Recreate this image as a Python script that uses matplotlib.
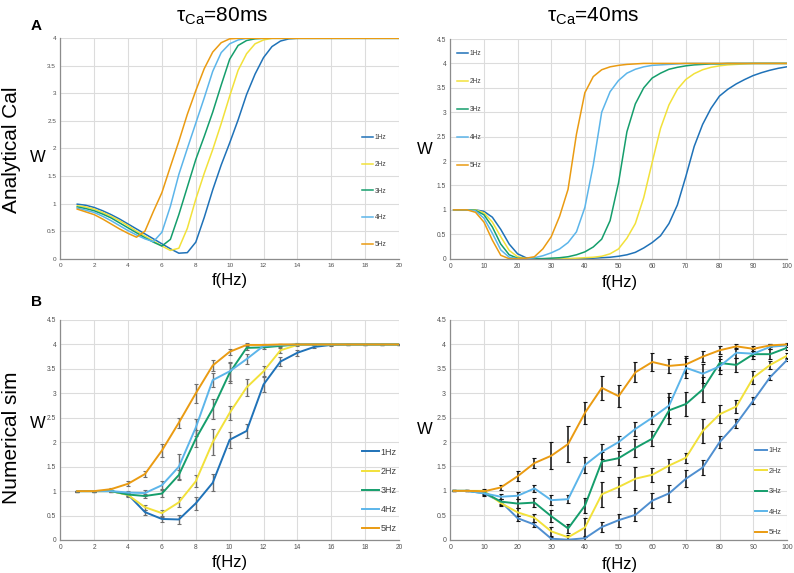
import matplotlib
matplotlib.use("Agg")
import matplotlib.pyplot as plt

plt.rcParams.update({
    "font.family": ["Liberation Sans", "DejaVu Sans"],
    "mathtext.fontset": "custom",
    "mathtext.rm": "Liberation Sans",
    "axes.edgecolor": "#8c8c8c",
    "axes.linewidth": 0.9,
})

W, H = 794, 573
COLORS = ["#1f72b8", "#f2e13a", "#159e6c", "#5cb5ea", "#ea9b12"]
BLUE_SIM40 = "#4f8fd0"
LABELS = ["1Hz", "2Hz", "3Hz", "4Hz", "5Hz"]

# --- analytical, tau_Ca = 80 ms ---
f_cal80 = [1, 1.5, 2, 2.5, 3, 3.5, 4, 4.5, 5, 5.5, 6, 6.5, 7, 7.5, 8, 8.5, 9, 9.5,
           10, 10.5, 11, 11.5, 12, 12.5, 13, 13.5, 14, 14.5, 15, 20]
cal80_1hz = [0.99, 0.97, 0.93, 0.87, 0.80, 0.72, 0.63, 0.54, 0.45, 0.36, 0.27, 0.18, 0.10, 0.11,
             0.30, 0.75, 1.25, 1.70, 2.10, 2.52, 2.98, 3.35, 3.65, 3.85, 3.95, 3.99, 4.0, 4.0, 4.0, 4.0]
cal80_2hz = [0.96, 0.94, 0.90, 0.84, 0.77, 0.69, 0.60, 0.50, 0.41, 0.32, 0.23, 0.15, 0.19, 0.55,
             1.08, 1.55, 1.98, 2.45, 2.95, 3.42, 3.72, 3.90, 3.97, 4.0, 4.0, 4.0, 4.0, 4.0, 4.0, 4.0]
cal80_3hz = [0.94, 0.91, 0.87, 0.81, 0.74, 0.65, 0.56, 0.47, 0.38, 0.30, 0.23, 0.35, 0.80, 1.30,
             1.80, 2.22, 2.66, 3.15, 3.62, 3.87, 3.96, 3.99, 4.0, 4.0, 4.0, 4.0, 4.0, 4.0, 4.0, 4.0]
cal80_4hz = [0.92, 0.88, 0.84, 0.77, 0.69, 0.60, 0.51, 0.43, 0.36, 0.31, 0.48, 0.95, 1.53, 2.00,
             2.46, 2.92, 3.40, 3.74, 3.90, 3.97, 4.0, 4.0, 4.0, 4.0, 4.0, 4.0, 4.0, 4.0, 4.0, 4.0]
cal80_5hz = [0.90, 0.85, 0.80, 0.72, 0.63, 0.54, 0.46, 0.39, 0.50, 0.86, 1.20, 1.67, 2.13, 2.62,
             3.05, 3.45, 3.75, 3.92, 3.99, 4.0, 4.0, 4.0, 4.0, 4.0, 4.0, 4.0, 4.0, 4.0, 4.0, 4.0]

# --- analytical, tau_Ca = 40 ms ---
f_cal40 = [1, 5, 7.5, 10, 12.5, 15, 17.5, 20, 22.5, 25, 27.5, 30, 32.5, 35, 37.5, 40, 42.5, 45,
           47.5, 50, 52.5, 55, 57.5, 60, 62.5, 65, 67.5, 70, 72.5, 75, 77.5, 80, 82.5, 85, 87.5,
           90, 92.5, 95, 97.5, 100]
cal40_1hz = [1.0, 1.0, 1.0, 0.97, 0.85, 0.6, 0.3, 0.1, 0.02, 0.0,
             0.0, 0.0, 0.0, 0.0, 0.0, 0.0, 0.01, 0.02, 0.03, 0.05,
             0.08, 0.13, 0.22, 0.33, 0.47, 0.72, 1.1, 1.68, 2.3, 2.75,
             3.08, 3.33, 3.47, 3.58, 3.67, 3.75, 3.81, 3.86, 3.9, 3.93]
cal40_2hz = [1.0, 1.0, 1.0, 0.94, 0.75, 0.45, 0.17, 0.04, 0.0, 0.0,
             0.0, 0.0, 0.0, 0.0, 0.01, 0.02, 0.03, 0.05, 0.1, 0.2,
             0.42, 0.72, 1.25, 1.97, 2.67, 3.15, 3.47, 3.67, 3.79, 3.87,
             3.92, 3.95, 3.97, 3.98, 3.99, 4.0, 4.0, 4.0, 4.0, 4.0]
cal40_3hz = [1.0, 1.0, 0.99, 0.9, 0.65, 0.3, 0.08, 0.01, 0.0, 0.0,
             0.0, 0.01, 0.02, 0.04, 0.08, 0.14, 0.24, 0.4, 0.78, 1.55,
             2.6, 3.17, 3.5, 3.7, 3.8, 3.88, 3.92, 3.95, 3.97, 3.98,
             3.99, 3.99, 4.0, 4.0, 4.0, 4.0, 4.0, 4.0, 4.0, 4.0]
cal40_4hz = [1.0, 1.0, 0.98, 0.83, 0.52, 0.18, 0.03, 0.0, 0.0, 0.02,
             0.06, 0.12, 0.2, 0.33, 0.55, 1.05, 1.92, 3.0, 3.42, 3.65,
             3.8, 3.88, 3.93, 3.96, 3.97, 3.98, 3.99, 4.0, 4.0, 4.0,
             4.0, 4.0, 4.0, 4.0, 4.0, 4.0, 4.0, 4.0, 4.0, 4.0]
cal40_5hz = [1.0, 1.0, 0.95, 0.75, 0.38, 0.07, 0.0, 0.0, 0.01, 0.04,
             0.2, 0.45, 0.87, 1.42, 2.55, 3.4, 3.73, 3.87, 3.93, 3.96,
             3.98, 3.99, 4.0, 4.0, 4.0, 4.0, 4.0, 4.0, 4.0, 4.0,
             4.0, 4.0, 4.0, 4.0, 4.0, 4.0, 4.0, 4.0, 4.0, 4.0]

# --- numerical, tau_Ca = 80 ms (mean, error) ---
f_sim80 = [1, 2, 3, 4, 5, 6, 7, 8, 9, 10, 11, 12, 13, 14, 15, 16, 17, 18, 19, 20]
sim80_1hz = [1.0, 1.0, 1.0, 0.93, 0.57, 0.43, 0.42, 0.75, 1.17, 2.05, 2.23, 3.18, 3.65, 3.83, 3.95, 3.99, 4.0, 4.0, 4.0, 4.0]
sim80_2hz = [1.0, 1.0, 1.0, 0.92, 0.67, 0.55, 0.77, 1.2, 2.0, 2.6, 3.12, 3.45, 3.88, 3.99, 4.0, 4.0, 4.0, 4.0, 4.0, 4.0]
sim80_3hz = [1.0, 1.0, 1.0, 0.93, 0.9, 0.95, 1.33, 2.07, 2.68, 3.42, 3.93, 3.94, 3.97, 4.0, 4.0, 4.0, 4.0, 4.0, 4.0, 4.0]
sim80_4hz = [1.0, 1.0, 1.0, 0.97, 0.96, 1.12, 1.5, 2.3, 3.27, 3.45, 3.7, 3.97, 3.99, 4.0, 4.0, 4.0, 4.0, 4.0, 4.0, 4.0]
sim80_5hz = [1.0, 1.0, 1.04, 1.15, 1.35, 1.83, 2.4, 3.0, 3.57, 3.85, 3.99, 3.99, 4.0, 4.0, 4.0, 4.0, 4.0, 4.0, 4.0, 4.0]
err80_1hz = [0.01, 0.01, 0.02, 0.04, 0.05, 0.07, 0.1, 0.13, 0.17, 0.16, 0.15, 0.15, 0.1, 0.06, 0.03, 0.02, 0.01, 0.01, 0.01, 0.01]
err80_2hz = [0.01, 0.01, 0.02, 0.04, 0.05, 0.07, 0.1, 0.12, 0.27, 0.15, 0.18, 0.1, 0.05, 0.02, 0.01, 0.01, 0.01, 0.01, 0.01, 0.01]
err80_3hz = [0.01, 0.01, 0.02, 0.04, 0.05, 0.08, 0.1, 0.17, 0.2, 0.2, 0.05, 0.04, 0.03, 0.02, 0.01, 0.01, 0.01, 0.01, 0.01, 0.01]
err80_4hz = [0.01, 0.01, 0.02, 0.04, 0.06, 0.08, 0.26, 0.18, 0.15, 0.2, 0.1, 0.03, 0.02, 0.01, 0.01, 0.01, 0.01, 0.01, 0.01, 0.01]
err80_5hz = [0.01, 0.01, 0.03, 0.05, 0.07, 0.14, 0.1, 0.2, 0.12, 0.06, 0.03, 0.02, 0.01, 0.01, 0.01, 0.01, 0.01, 0.01, 0.01, 0.01]

# --- numerical, tau_Ca = 40 ms (mean, error) ---
f_sim40 = [1, 5, 10, 15, 20, 25, 30, 35, 40, 45, 50, 55, 60, 65, 70, 75, 80, 85, 90, 95, 100]
sim40_1hz = [1.0, 1.0, 0.95, 0.78, 0.44, 0.31, 0.02, 0.0, 0.03, 0.26, 0.4, 0.51, 0.8, 0.95, 1.25, 1.48, 2.0, 2.38, 2.85, 3.33, 3.68]
sim40_2hz = [1.0, 1.0, 1.0, 0.75, 0.56, 0.45, 0.17, 0.05, 0.25, 0.93, 1.08, 1.25, 1.33, 1.52, 1.68, 2.23, 2.57, 2.73, 3.32, 3.58, 3.77]
sim40_3hz = [1.0, 1.0, 0.97, 0.78, 0.74, 0.76, 0.48, 0.23, 0.7, 1.6, 1.67, 1.88, 2.07, 2.65, 2.78, 3.08, 3.62, 3.58, 3.8, 3.8, 3.93]
sim40_4hz = [1.0, 1.0, 0.95, 0.88, 0.9, 1.05, 0.81, 0.83, 1.53, 1.8, 2.0, 2.27, 2.5, 2.75, 3.52, 3.4, 3.55, 3.83, 3.81, 3.95, 3.98]
sim40_5hz = [1.0, 1.0, 0.99, 1.07, 1.3, 1.57, 1.72, 1.96, 2.6, 3.11, 2.94, 3.43, 3.64, 3.56, 3.59, 3.75, 3.88, 3.96, 3.91, 3.98, 4.0]
err40_1hz = [0.01, 0.01, 0.05, 0.05, 0.05, 0.06, 0.03, 0.02, 0.05, 0.1, 0.13, 0.13, 0.15, 0.17, 0.17, 0.15, 0.13, 0.1, 0.07, 0.05, 0.03]
err40_2hz = [0.01, 0.01, 0.04, 0.05, 0.08, 0.08, 0.1, 0.05, 0.2, 0.25, 0.2, 0.24, 0.14, 0.14, 0.1, 0.25, 0.18, 0.13, 0.13, 0.08, 0.05]
err40_3hz = [0.01, 0.01, 0.04, 0.06, 0.1, 0.1, 0.12, 0.1, 0.15, 0.2, 0.15, 0.18, 0.15, 0.27, 0.25, 0.25, 0.15, 0.15, 0.1, 0.1, 0.05]
err40_4hz = [0.01, 0.01, 0.04, 0.05, 0.07, 0.08, 0.1, 0.08, 0.16, 0.15, 0.12, 0.15, 0.14, 0.25, 0.2, 0.2, 0.15, 0.1, 0.05, 0.05, 0.03]
err40_5hz = [0.01, 0.01, 0.03, 0.06, 0.1, 0.1, 0.28, 0.37, 0.22, 0.25, 0.22, 0.2, 0.18, 0.15, 0.17, 0.12, 0.08, 0.05, 0.05, 0.03, 0.02]


def box(x0, y0, x1, y1):
    # pixel box (top-left origin) -> figure fraction rect
    return [x0 / W, 1 - y1 / H, (x1 - x0) / W, (y1 - y0) / H]


def style(ax, xmax, xstep, ymax, tick_fs):
    ax.set_xlim(0, xmax)
    ax.set_ylim(0, ymax)
    ax.set_xticks([i * xstep for i in range(int(xmax / xstep) + 1)])
    ax.set_yticks([i * 0.5 for i in range(int(ymax / 0.5) + 1)])
    ax.set_yticklabels([f"{v:g}" for v in ax.get_yticks()])
    ax.tick_params(length=0, labelsize=tick_fs, labelcolor="#505050", pad=3)
    ax.grid(True, color="#dcdcdc", lw=0.8)
    ax.set_axisbelow(True)
    for s in ("top", "right"):
        ax.spines[s].set_visible(False)


def legend(ax, handles, x, y, fs, spacing, hlen):
    ax.legend(handles=handles, labels=LABELS, loc="upper left", bbox_to_anchor=(x, y),
              frameon=False, fontsize=fs, labelspacing=spacing, handlelength=hlen,
              handletextpad=0.2, borderpad=0, borderaxespad=0, labelcolor="#404040")


def curves(ax, f, series, colors, lw=1.1):
    return [ax.plot(f, ys, color=c, lw=lw)[0] for ys, c in zip(series, colors)]


def sims(ax, f, series, errs, colors, ecolor, elw, cap):
    handles = []
    for ys, e, c in zip(series, errs, colors):
        cont = ax.errorbar(f, ys, yerr=e, color=c, lw=1.4, ecolor=ecolor, elinewidth=elw,
                           capsize=cap, capthick=0.8)
        handles.append(cont.lines[0])
    return handles


fig = plt.figure(figsize=(W / 100, H / 100), dpi=100)

ax = fig.add_axes(box(60.3, 38.3, 399, 258.7))
h = curves(ax, f_cal80, [cal80_1hz, cal80_2hz, cal80_3hz, cal80_4hz, cal80_5hz], COLORS)
style(ax, 20, 2, 4, 4.6)
legend(ax, h, 0.89, 0.565, 4.8, 2.95, 1.7)

ax = fig.add_axes(box(450.3, 39, 786.7, 258.7))
h = curves(ax, f_cal40, [cal40_1hz, cal40_2hz, cal40_3hz, cal40_4hz, cal40_5hz], COLORS)
style(ax, 100, 10, 4.5, 4.8)
legend(ax, h, 0.02, 0.948, 4.8, 3.15, 1.7)

ax = fig.add_axes(box(60.3, 320, 399, 540))
h = sims(ax, f_sim80, [sim80_1hz, sim80_2hz, sim80_3hz, sim80_4hz, sim80_5hz],
         [err80_1hz, err80_2hz, err80_3hz, err80_4hz, err80_5hz], COLORS, "#6e6e6e", 1.0, 1.5)
style(ax, 20, 2, 4.5, 4.8)
legend(ax, h, 0.89, 0.42, 6.5, 1.12, 1.9)

ax = fig.add_axes(box(450.3, 320, 787, 539.7))
h = sims(ax, f_sim40, [sim40_1hz, sim40_2hz, sim40_3hz, sim40_4hz, sim40_5hz],
         [err40_1hz, err40_2hz, err40_3hz, err40_4hz, err40_5hz],
         [BLUE_SIM40] + COLORS[1:], "#111111", 1.1, 1.3)
style(ax, 100, 10, 4.5, 5)
legend(ax, h, 0.905, 0.42, 5.2, 1.85, 1.7)


# titles, panel letters, row labels and axis labels in figure pixels
def ftext(x, y, s, **kw):
    fig.text(x / W, 1 - y / H, s, ha="center", va="center", **kw)


ftext(222, 16, "τ$_{\\mathrm{Ca}}$=80ms", fontsize=15)
ftext(593, 16, "τ$_{\\mathrm{Ca}}$=40ms", fontsize=15)
ftext(36, 26, "A", fontsize=11, fontweight="bold")
ftext(36, 302, "B", fontsize=11, fontweight="bold")
ftext(12, 150, "Analytical Cal", fontsize=15, rotation=90)
ftext(12, 438, "Numerical sim", fontsize=15, rotation=90)
for x, y in [(38, 158), (425, 150), (38, 424), (425, 430)]:
    ftext(x, y, "W", fontsize=12)
for x, y in [(230, 280), (620, 282), (230, 563), (620, 565)]:
    ftext(x, y, "f(Hz)", fontsize=12)

fig.savefig("out.png", dpi=100)
